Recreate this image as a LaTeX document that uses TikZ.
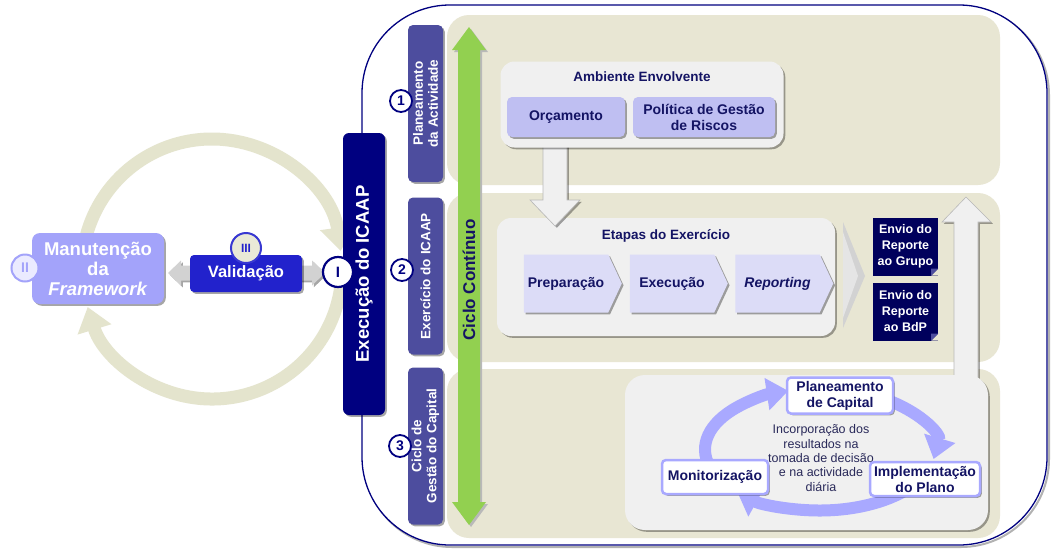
\documentclass[tikz,border=0pt]{standalone}
\usepackage{fontspec}
\setmainfont{Liberation Sans}
\usetikzlibrary{arrows.meta,shadows,shapes.symbols}
\definecolor{navy}{HTML}{000080}
\definecolor{navyd}{HTML}{00005C}
\definecolor{txtnavy}{HTML}{141464}
\definecolor{vbox}{HTML}{4D4D9E}
\definecolor{beige}{HTML}{E8E6D3}
\definecolor{ring}{HTML}{E4E4CD}
\definecolor{lgray}{HTML}{F0F0F0}
\definecolor{lav}{HTML}{BFBFF2}
\definecolor{chev}{HTML}{DCDCF7}
\definecolor{cyc}{HTML}{A9A9FF}
\definecolor{manu}{HTML}{A3A3FA}
\definecolor{valid}{HTML}{2222CC}
\definecolor{cgreen}{HTML}{92D050}
\definecolor{inctext}{HTML}{2A2A5A}
\newcommand\fsz[2]{\fontsize{#1}{#2}\selectfont}
\begin{document}
\begin{tikzpicture}[x=1pt,y=-1pt,
  shd/.style={drop shadow={shadow xshift=1.8pt,shadow yshift=-1.8pt,opacity=0.35,fill=black}},
  B/.style={font=\bfseries\fsz{14}{16}},
  vlab/.style={fill=vbox, rounded corners=5, text=white, font=\bfseries\fsz{13.5}{15}, rotate=90, align=center, minimum width=157, minimum height=35, inner sep=0pt, shd},
  num/.style={circle, draw=navy, line width=1.8, fill=white, minimum size=22, inner sep=0pt, text=navy, font=\bfseries\fsz{14}{14}},
  lavbox/.style={fill=lav, rounded corners=5, text=txtnavy, B, align=center, inner sep=0pt, shd},
  chevron/.style={signal, signal to=east, signal from=nowhere, signal pointer angle=130, fill=chev, text=txtnavy, B, minimum width=98, minimum height=58, inner sep=0pt, shd},
  envio/.style={fill=navyd, text=white, font=\bfseries\fsz{12.5}{16}, align=center, minimum width=65, minimum height=58, inner sep=0pt},
  cycbox/.style={fill=white, draw=cyc, line width=2.5, rounded corners=4, text=txtnavy, B, align=center, inner sep=0pt, shd},
  gbox/.style={fill=lgray, rounded corners=14, shd},
  ringarrow/.style={-{Triangle[width=0pt 2.6,length=0pt 1.8]}}
]
\useasboundingbox (0,0) rectangle (1051,549);
\fill[white] (0,0) rectangle (1051,549);

% ---------- left cycle ----------
\draw[ring, line width=13, ringarrow] (212,269) ++(-175:130) arc[start angle=-175,end angle=-8,radius=130];
\draw[ring, line width=13, ringarrow] (212,269) ++(8:130) arc[start angle=8,end angle=163,radius=130];

% ---------- big frame ----------
\draw[gray!60, line width=2, rounded corners=88] (364,7) rectangle (1049,547);
\filldraw[fill=white, draw=navy, line width=1.3, rounded corners=88] (362,5) rectangle (1047,545);

% panels
\fill[beige, rounded corners=22] (447,15) rectangle (1000,185);
\fill[beige, rounded corners=22] (447,193) rectangle (1000,362);
\fill[beige, rounded corners=22] (447,369) rectangle (1000,538);

% green double arrow
\fill[gray!55] (460,52) -- (454,52) -- (471,29) -- (488,52) -- (482,52) -- (482,504) -- (488,504) -- (471,527) -- (454,504) -- (460,504) -- cycle;
\fill[cgreen] (458,50) -- (452,50) -- (469,27) -- (486,50) -- (480,50) -- (480,502) -- (486,502) -- (469,525) -- (452,502) -- (458,502) -- cycle;
\node[rotate=90, text=txtnavy, font=\bfseries\fsz{17}{17}] (ciclo) at (469,280) {Ciclo Contínuo};

% vertical labels
\node[vlab] (lab1) at (425.5,103.5) {Planeamento\\da Actividade};
\node[vlab] (lab2) at (425.5,276) {Exercício do ICAAP};
\node[vlab] (lab3) at (425.5,446) {Ciclo de\\Gestão do Capital};
\node[num] (n1) at (401,101) {1};
\node[num] (n2) at (402,270) {2};
\node[num] (n3) at (400,446) {3};

% ---------- panel 2 ----------
\node[gbox, minimum width=338, minimum height=118] (etapas) at (666,277) {};
\node[B, text=txtnavy, font=\bfseries\fsz{13.5}{16}] (etapt) at (666,236) {Etapas do Exercício};
\node[chevron] (prep) at (566,283.5) {Preparação};
\node[chevron] (exe) at (672,283.5) {Execução};
\node[chevron] (rep) at (777.5,283.5) {\textit{Reporting}};
\fill[gray!35] (843,222) -- (865,276) -- (843,328) -- cycle;
\fill[gray!20] (843,232) -- (858,276) -- (843,318) -- cycle;
\node[envio] (env1) at (905.5,246.5) {Envio do\\Reporte\\ao Grupo};
\node[envio] (env2) at (905.5,311.5) {Envio do\\Reporte\\ao BdP};
\foreach \n in {env1,env2}{
  \fill[beige] (\n.south east) -- ++(-7,0) -- ++(7,-7) -- cycle;
  \fill[vbox] (\n.south east) ++(-7,0) -- ++(7,-7) -- ++(-7,0) -- cycle;
}

% down arrow from Ambiente to Etapas
\path[fill=lgray, draw=gray!55, line width=0.6, shd] (543,140) -- (567,140) -- (567,200) -- (580,200) -- (555,226) -- (530,200) -- (543,200) -- cycle;

% ---------- panel 1 ----------
\node[gbox, minimum width=283, minimum height=86] (amb) at (642,104.5) {};
\node[text=txtnavy, font=\bfseries\fsz{13.5}{16}] (ambt) at (642,77) {Ambiente Envolvente};
\node[lavbox, minimum width=118, minimum height=40] (orc) at (566,117) {Orçamento};
\node[lavbox, minimum width=142, minimum height=40] (pol) at (704,117) {Política de Gestão\\de Riscos};

% up arrow on the right
\path[fill=lgray, draw=gray!55, line width=0.6, shd] (954,390) -- (954,222) -- (942,222) -- (966,197) -- (991,222) -- (978,222) -- (978,390) -- cycle;

% ---------- panel 3 ----------
\node[gbox, rounded corners=20, minimum width=363, minimum height=155] (cycbg) at (806.5,452.5) {};
\draw[cyc, line width=12, ringarrow] (820,449.5) ++(-200:115 and 61) arc[start angle=-200,end angle=-106,x radius=115,y radius=61];
\draw[cyc, line width=12, ringarrow] (820,449.5) ++(-60:115 and 61) arc[start angle=-60,end angle=9,x radius=115,y radius=61];
\draw[cyc, line width=12, ringarrow] (820,449.5) ++(28:115 and 61) arc[start angle=28,end angle=136,x radius=115,y radius=61];
\node[text=inctext, font=\fsz{12.5}{14.3}, align=center] (inc) at (821,458) {Incorporação dos\\resultados na\\tomada de decisão\\e na actividade\\diária};
\node[cycbox, minimum width=106, minimum height=36] (plan) at (840,395.5) {Planeamento\\de Capital};
\node[cycbox, minimum width=106, minimum height=34] (mon) at (715,477) {Monitorização};
\node[cycbox, minimum width=110, minimum height=34] (impl) at (925,479) {Implementação\\do Plano};

% ---------- left part ----------
\node[fill=navy, rounded corners=6, rotate=90, minimum width=282, minimum height=42, inner sep=0pt, text=white, font=\bfseries\fsz{18.5}{20}, shd] (exec) at (364,274) {Execução do ICAAP};

\path[fill=gray!35, shd] (168,273) -- (181,260.5) -- (181,265.5) -- (312,265.5) -- (312,260.5) -- (325,273) -- (312,285.5) -- (312,280.5) -- (181,280.5) -- (181,285.5) -- cycle;
\node[fill=manu, rounded corners=8, minimum width=132, minimum height=71, inner sep=0pt, text=white, align=center, font=\bfseries\fsz{18.5}{20}, shd] (manut) at (98,268.5) {Manutenção\\da\\\textit{Framework}};
\node[circle, fill=blue!8, draw=manu, line width=2, minimum size=27, inner sep=0pt, text=manu, font=\bfseries\fsz{14}{14}] (c2) at (25,268) {II};
\node[fill=valid, rounded corners=4, minimum width=112, minimum height=37, inner sep=0pt, text=white, font=\bfseries\fsz{16.5}{18}, shd] (valid) at (246,273.5) {Validação};
\node[circle, fill=ring!80!white, draw=valid!90!white, line width=2, minimum size=30, inner sep=0pt, text=valid, font=\bfseries\fsz{12}{12}] (c3) at (246,248) {III};
\node[circle, fill=white, draw=navy, line width=2.2, minimum size=30, inner sep=0pt, text=navy, font=\bfseries\fsz{15}{15}] (c1) at (338,272) {I};
\end{tikzpicture}
\end{document}
